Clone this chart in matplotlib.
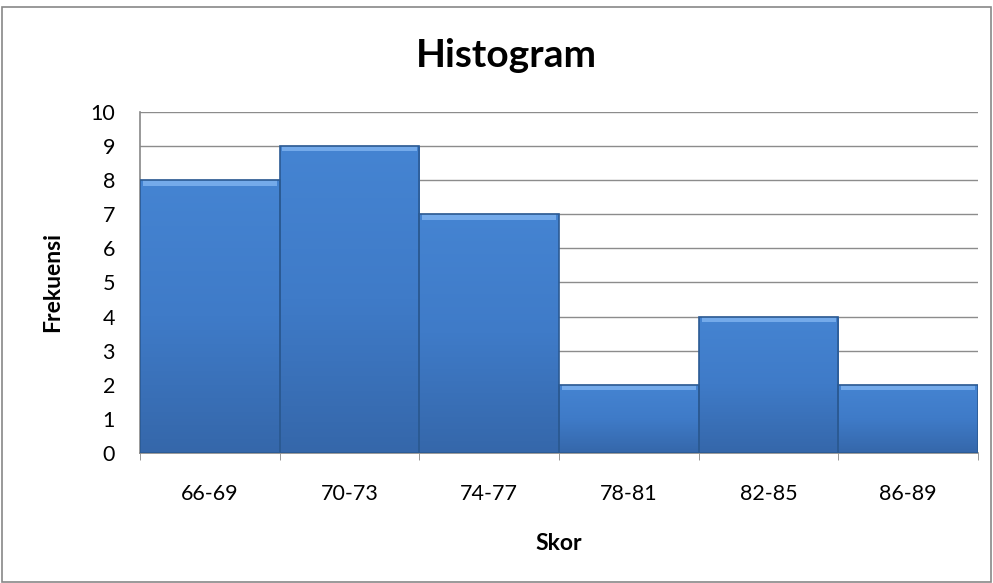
import numpy as np
import matplotlib.pyplot as plt
from matplotlib.patches import Rectangle
from matplotlib.colors import LinearSegmentedColormap

plt.rcParams['font.family'] = ['Lato', 'DejaVu Sans']

# Data
categories = ["66-69", "70-73", "74-77", "78-81", "82-85", "86-89"]
frekuensi = [8, 9, 7, 2, 4, 2]

fig = plt.figure(figsize=(9.93, 5.83), dpi=100)
ax = fig.add_axes([0.141, 0.223, 0.844, 0.585])

x = np.arange(len(categories))
bars = ax.bar(x, frekuensi, width=1.0, color="#3d78c4", edgecolor="#2b5a93",
              linewidth=1.2, zorder=3)

# vertical gradient inside each bar
grad = LinearSegmentedColormap.from_list("g", ["#3567aa", "#3f7bc8", "#4584d2"])
g = np.linspace(0, 1, 256).reshape(-1, 1)
for b in bars:
    bx, by, bw, bh = b.get_x(), b.get_y(), b.get_width(), b.get_height()
    im = ax.imshow(g, cmap=grad, aspect='auto', origin='lower',
                   extent=[bx, bx + bw, by, by + bh], zorder=3.5)
    im.set_clip_path(b)
    # lighter bevel at the top
    ax.add_patch(Rectangle((bx + 0.02, by + bh - 0.16), bw - 0.04, 0.16,
                           color="#74aaea", linewidth=0, zorder=4))
    b.set_zorder(4.5)
    b.set_facecolor("none")

ax.set_xlim(-0.5, len(categories) - 0.5)
ax.set_ylim(0, 10)
ax.set_yticks(range(0, 11))
ax.set_xticks(x)
ax.set_xticklabels(categories)
ax.set_xticks(np.arange(-0.5, len(categories)), minor=True)
ax.tick_params(axis='x', which='major', length=0, pad=22, labelsize=15.5)
ax.tick_params(axis='x', which='minor', length=5, color="#888888")
ax.tick_params(axis='y', length=0, pad=18, labelsize=15.5)

ax.grid(axis='y', color="#8c8c8c", linewidth=1, zorder=0)
for s in ['top', 'right']:
    ax.spines[s].set_visible(False)
ax.spines['left'].set_color("#888888")
ax.spines['bottom'].set_color("#888888")
ax.spines['left'].set_linewidth(1.2)
ax.spines['bottom'].set_linewidth(1.2)

ax.set_ylabel("Frekuensi", fontsize=16.5, fontweight='bold')
ax.set_xlabel("Skor", fontsize=16.5, fontweight='bold')
ax.yaxis.set_label_coords(-77 / 838, 0.5)
ax.xaxis.set_label_coords(0.5, -80 / 341)
fig.text(0.51, 1 - 67 / 583, "Histogram", ha='center', va='baseline',
         fontsize=28, fontweight='bold')

fig.patches.append(Rectangle((0.002, 0.002), 0.996, 0.986, transform=fig.transFigure,
                             fill=False, edgecolor="#888888", linewidth=1.2))

fig.savefig("out.png", dpi=100)
